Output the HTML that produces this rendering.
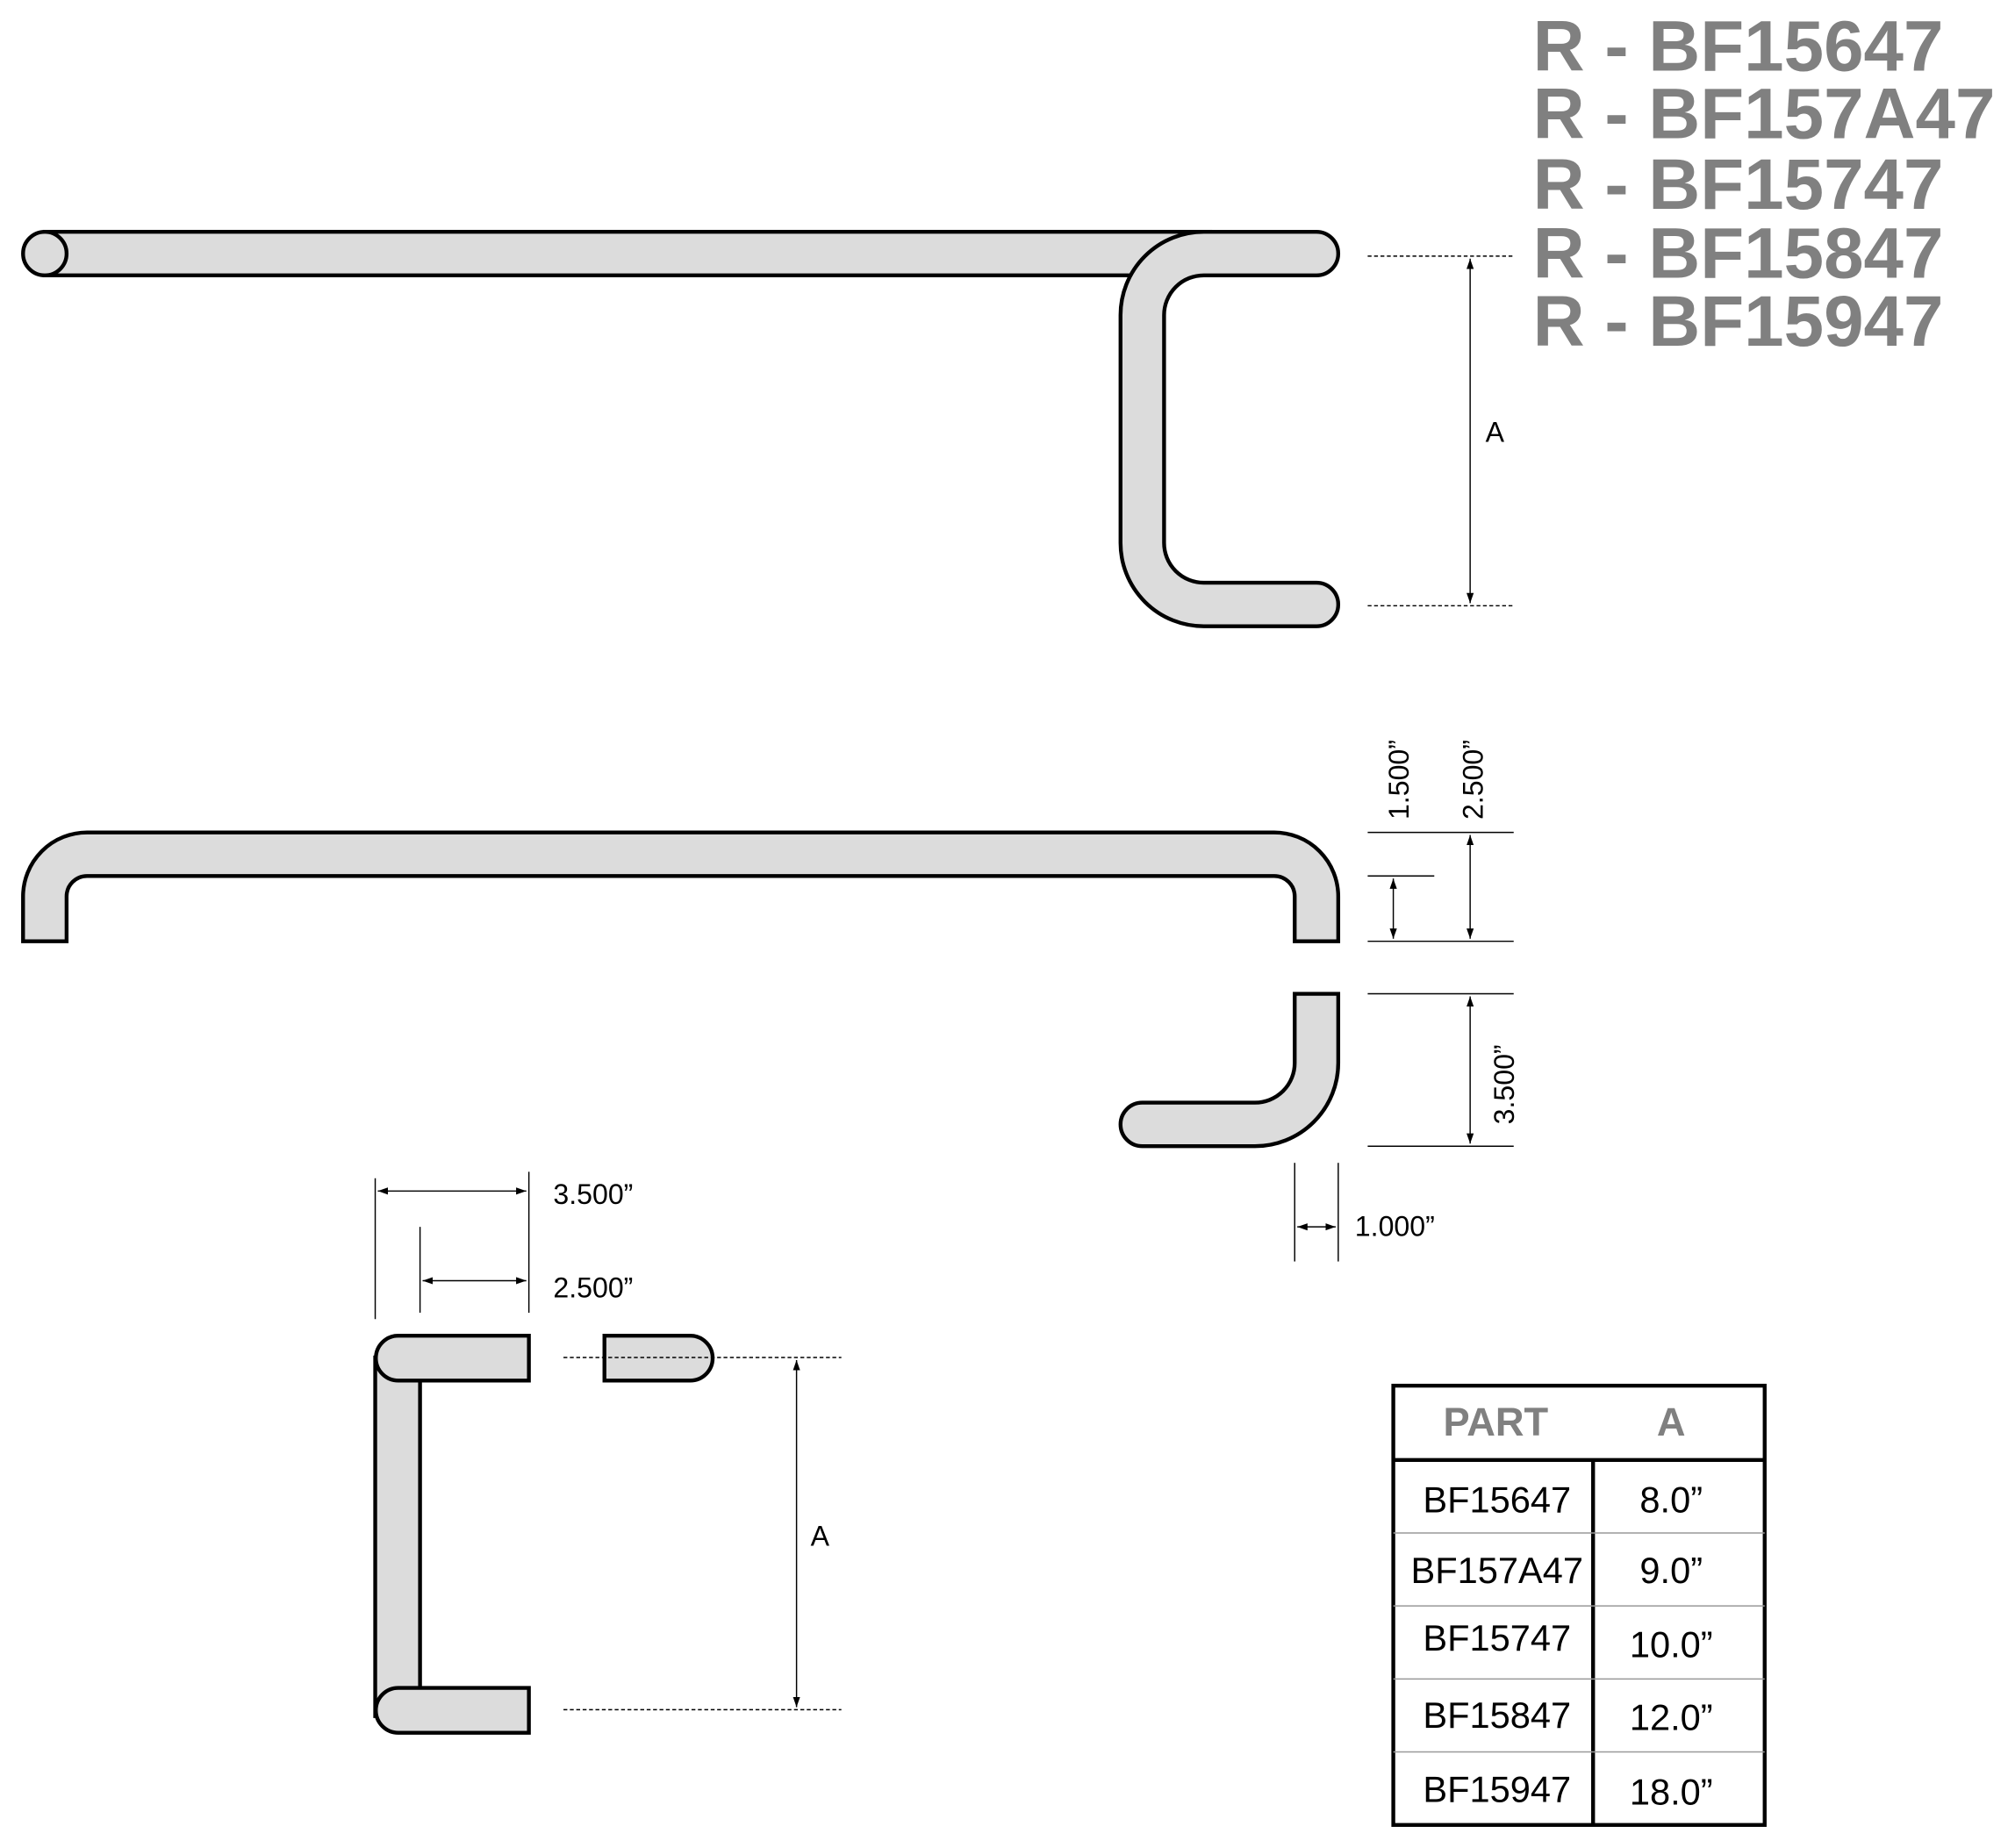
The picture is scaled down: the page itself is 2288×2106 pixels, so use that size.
<!DOCTYPE html>
<html><head><meta charset="utf-8"><style>
html,body{margin:0;padding:0;background:#fff}
svg{display:block}
text{font-family:"Liberation Sans",sans-serif}
</style></head><body>
<svg width="2288" height="2106" viewBox="0 0 1568 1443" preserveAspectRatio="none" xmlns="http://www.w3.org/2000/svg">
<defs>
<marker id="a" viewBox="0 0 10 10" refX="10" refY="5" markerWidth="8" markerHeight="8" orient="auto-start-reverse" markerUnits="userSpaceOnUse">
<path d="M0,1.5 L10,5 L0,8.5 Z" fill="#000"/></marker>
</defs>
<g font-weight="bold" font-size="56" fill="#808080">
<text x="1197" y="55">R - BF15647</text>
<text x="1197" y="108">R - BF157A47</text>
<text x="1197" y="163">R - BF15747</text>
<text x="1197" y="217">R - BF15847</text>
<text x="1197" y="270">R - BF15947</text>
</g>
<g fill="#dcdcdc" stroke="#000" stroke-width="3">
<rect x="35" y="181" width="910" height="34"/>
<circle cx="35" cy="198" r="17"/>
<path d="M1028,181 L940,181 A65,65 0 0 0 875,246 L875,424 A65,65 0 0 0 940,489 L1028,489 A17,17 0 0 0 1028,455 L940,455 A31,31 0 0 1 909,424 L909,246 A31,31 0 0 1 940,215 L1028,215 A17,17 0 0 0 1028,181 Z"/>
<path d="M18,735 L18,700 A50,50 0 0 1 68,650 L995,650 A50,50 0 0 1 1045,700 L1045,735 L1011,735 L1011,700 A16,16 0 0 0 995,684 L68,684 A16,16 0 0 0 52,700 L52,735 Z"/>
<path d="M1011,776 L1045,776 L1045,830 A65,65 0 0 1 980,895 L892,895 A17,17 0 0 1 892,861 L980,861 A31,31 0 0 0 1011,830 Z"/>
<rect x="293" y="1060" width="35" height="280"/>
<path d="M413,1043 L311,1043 A17.5,17.5 0 0 0 311,1078 L413,1078 Z"/>
<path d="M413,1318 L311,1318 A17.5,17.5 0 0 0 311,1353 L413,1353 Z"/>
<path d="M472,1043 L539,1043 A17.5,17.5 0 0 1 539,1078 L472,1078 Z"/>
</g>
<g stroke="#000" stroke-width="1" fill="none">
<line x1="1068" y1="200" x2="1182" y2="200" stroke-dasharray="3,2"/>
<line x1="1068" y1="473" x2="1182" y2="473" stroke-dasharray="3,2"/>
<line x1="1148" y1="202" x2="1148" y2="471" marker-start="url(#a)" marker-end="url(#a)"/>
<line x1="1068" y1="650" x2="1182" y2="650"/>
<line x1="1068" y1="684" x2="1120" y2="684"/>
<line x1="1068" y1="735" x2="1182" y2="735"/>
<line x1="1088" y1="686" x2="1088" y2="733" marker-start="url(#a)" marker-end="url(#a)"/>
<line x1="1148" y1="652" x2="1148" y2="733" marker-start="url(#a)" marker-end="url(#a)"/>
<line x1="1068" y1="776" x2="1182" y2="776"/>
<line x1="1068" y1="895" x2="1182" y2="895"/>
<line x1="1148" y1="778" x2="1148" y2="893" marker-start="url(#a)" marker-end="url(#a)"/>
<line x1="1011" y1="908" x2="1011" y2="985"/>
<line x1="1045" y1="908" x2="1045" y2="985"/>
<line x1="1013" y1="958" x2="1043" y2="958" marker-start="url(#a)" marker-end="url(#a)"/>
<line x1="293" y1="920" x2="293" y2="1030"/>
<line x1="328" y1="958" x2="328" y2="1025"/>
<line x1="413" y1="915" x2="413" y2="1025"/>
<line x1="295" y1="930" x2="411" y2="930" marker-start="url(#a)" marker-end="url(#a)"/>
<line x1="330" y1="1000" x2="411" y2="1000" marker-start="url(#a)" marker-end="url(#a)"/>
<line x1="440" y1="1060" x2="657" y2="1060" stroke-dasharray="3,2"/>
<line x1="440" y1="1335" x2="657" y2="1335" stroke-dasharray="3,2"/>
<line x1="622" y1="1062" x2="622" y2="1333" marker-start="url(#a)" marker-end="url(#a)"/>
</g>
<g font-size="22" fill="#000">
<text x="1160" y="345" font-family="Liberation Mono,monospace">A</text>
<text x="633" y="1207" font-family="Liberation Mono,monospace">A</text>
<text x="432" y="940">3.500”</text>
<text x="432" y="1013">2.500”</text>
<text x="1058" y="965">1.000”</text>
<text transform="translate(1100,640) rotate(-90)">1.500”</text>
<text transform="translate(1158,640) rotate(-90)">2.500”</text>
<text transform="translate(1182,878) rotate(-90)">3.500”</text>
</g>
<g stroke="#000" fill="none">
<rect x="1088" y="1082" width="290" height="343" stroke-width="3"/>
<line x1="1088" y1="1140" x2="1378" y2="1140" stroke-width="3"/>
<line x1="1244" y1="1140" x2="1244" y2="1425" stroke-width="3"/>
<g stroke="#999" stroke-width="1">
<line x1="1088" y1="1197" x2="1378" y2="1197"/>
<line x1="1088" y1="1254" x2="1378" y2="1254"/>
<line x1="1088" y1="1311" x2="1378" y2="1311"/>
<line x1="1088" y1="1368" x2="1378" y2="1368"/>
</g>
</g>
<g font-size="31" font-weight="bold" fill="#808080" text-anchor="middle">
<text x="1168" y="1121">PART</text>
<text x="1305" y="1121">A</text>
</g>
<g font-size="28.5" fill="#000" text-anchor="middle">
<text x="1169" y="1181">BF15647</text><text x="1305" y="1181">8.0”</text>
<text x="1169" y="1236">BF157A47</text><text x="1305" y="1236">9.0”</text>
<text x="1169" y="1289">BF15747</text><text x="1305" y="1294">10.0”</text>
<text x="1169" y="1349">BF15847</text><text x="1305" y="1351">12.0”</text>
<text x="1169" y="1407">BF15947</text><text x="1305" y="1409">18.0”</text>
</g>
</svg>
</body></html>
